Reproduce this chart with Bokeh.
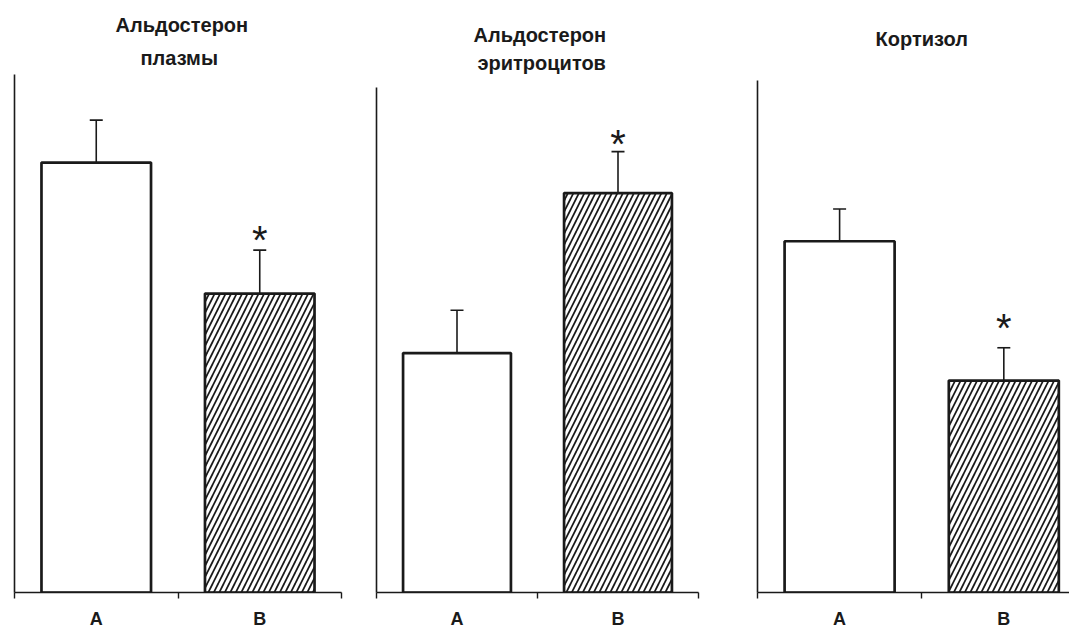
from bokeh.plotting import figure
from bokeh.layouts import row
from bokeh.models import ColumnDataSource, Range1d, FixedTicker, Whisker, TeeHead, Title
from bokeh.core.properties import value
from bokeh.embed import file_html
from bokeh.resources import INLINE

# ---- data (relative units, 0-100 of the y-axis length) ----
groups = ["A", "B"]
group_pos = [0.5, 1.5]
titles = [["Альдостерон", "плазмы"], ["Альдостерон", "эритроцитов"], ["Кортизол"]]
aldo_plasma_mean = [83.0, 57.7]
aldo_plasma_sd = [8.2, 8.4]
aldo_rbc_mean = [47.4, 79.1]
aldo_rbc_sd = [8.5, 8.2]
cortisol_mean = [68.6, 41.4]
cortisol_sd = [6.3, 6.4]
significant = [False, True]  # * significant difference vs A
hatches = [" ", "/"]

FONT = "Liberation Sans"
INK = "#1a1a1a"

H = 631
BT = 73      # shared frame top
BB = 39      # bottom border (x axis at 592)
FRAME_H = H - BT - BB

# layout per panel: width, borders, x-range end, y-axis line length (px),
# title lines: (standoff, left offset) from the outermost line to the innermost, star y-offset
layout = [
    dict(width=358, bl=14, br=17, xend=2.0, axis_px=519,
         tl=[(6, 101), (12, 126)], star_dy=-10),
    dict(width=382, bl=18, br=42, xend=2.0, axis_px=506,
         tl=[(7, 97), (1, 101)], star_dy=-8),
    dict(width=329, bl=17, br=0, xend=1.90, axis_px=513,
         tl=[(50, 118)], star_dy=-20),
]


def make_panel(title_lines, means, sds, cfg):
    ymax = 100.0 * FRAME_H / cfg["axis_px"]
    p = figure(width=cfg["width"], height=H, output_backend="svg", toolbar_location=None,
               x_range=Range1d(0, cfg["xend"]), y_range=Range1d(0, ymax),
               min_border_left=cfg["bl"], min_border_right=cfg["br"],
               min_border_top=BT, min_border_bottom=BB)
    p.outline_line_color = None
    p.grid.visible = False
    p.background_fill_color = "white"
    p.border_fill_color = "white"

    def style(t, so, off):
        t.align = "left"
        t.text_font = FONT
        t.text_font_size = "20px"
        t.text_font_style = "bold"
        t.text_color = INK
        t.standoff = so
        t.offset = off

    # outermost line is the figure title; later added titles sit nearer the plot
    p.title.text = title_lines[0]
    style(p.title, *cfg["tl"][0])
    for line, spec in zip(title_lines[1:], cfg["tl"][1:]):
        t = Title(text=line)
        style(t, *spec)
        p.add_layout(t, "above")

    tops = [m + s for m, s in zip(means, sds)]
    src = ColumnDataSource(dict(x=group_pos, top=means, upper=tops, hatch=hatches, label=groups))
    p.vbar(x="x", top="top", bottom=0, width=0.67, source=src,
           fill_color="white", line_color=INK, line_width=2.7,
           hatch_pattern="hatch", hatch_color=INK, hatch_weight=1.7, hatch_scale=11)

    w = Whisker(base="x", lower="top", upper="upper", source=src, dimension="height",
                line_color=INK, line_width=1.6, lower_head=None,
                upper_head=TeeHead(size=13, line_color=INK, line_width=1.6))
    p.add_layout(w)

    sx = [x for x, s in zip(group_pos, significant) if s]
    sy = [t for t, s in zip(tops, significant) if s]
    ssrc = ColumnDataSource(dict(x=sx, y=sy, t=["*"] * len(sx)))
    p.text(x="x", y="y", text="t", source=ssrc, text_font=value(FONT), text_font_size="40px",
           text_align="center", text_baseline="alphabetic", text_color=INK, y_offset=cfg["star_dy"])

    # x axis: category labels at centres, boundary ticks at 0, 1, 2
    xa = p.xaxis[0]
    xa.ticker = FixedTicker(ticks=group_pos, minor_ticks=[0, 1, 2])
    xa.major_label_overrides = {0.5: "A", 1.5: "B"}
    xa.major_tick_in = 0
    xa.major_tick_out = 0
    xa.minor_tick_in = 0
    xa.minor_tick_out = 6
    xa.minor_tick_line_color = INK
    xa.minor_tick_line_width = 1.4
    xa.axis_line_color = INK
    xa.axis_line_width = 1.6
    xa.major_label_text_font = FONT
    xa.major_label_text_font_size = "18px"
    xa.major_label_text_font_style = "bold"
    xa.major_label_text_color = INK
    xa.major_label_standoff = 10

    ya = p.yaxis[0]
    ya.ticker = FixedTicker(ticks=[])
    ya.bounds = (0, 100)
    ya.major_tick_in = 0
    ya.major_tick_out = 0
    ya.minor_tick_in = 0
    ya.minor_tick_out = 0
    ya.major_label_standoff = 0
    ya.axis_line_color = INK
    ya.axis_line_width = 1.6
    return p


panels = [
    make_panel(titles[0], aldo_plasma_mean, aldo_plasma_sd, layout[0]),
    make_panel(titles[1], aldo_rbc_mean, aldo_rbc_sd, layout[1]),
    make_panel(titles[2], cortisol_mean, cortisol_sd, layout[2]),
]

page = row(*panels, spacing=0)
open("out.html", "w").write(file_html(page, INLINE))
